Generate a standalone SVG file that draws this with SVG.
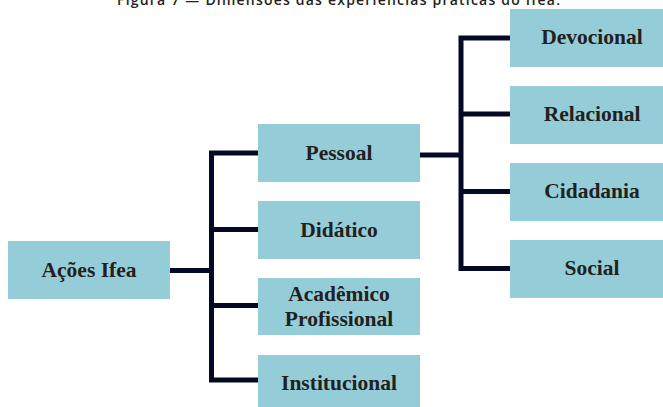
<svg xmlns="http://www.w3.org/2000/svg" width="663" height="407" viewBox="0 0 663 407">
<style>
.box{fill:#94cdd8}
.lbl{font-family:"Liberation Serif","Times New Roman",serif;font-weight:bold;font-size:21.5px;fill:#231f20;text-anchor:middle}
.ln{fill:none;stroke:#050a24;stroke-width:5;stroke-linejoin:miter;stroke-linecap:butt}
.title{font-family:"Open Sans","Liberation Sans",sans-serif;font-weight:600;font-size:14px;fill:#231f20}
</style>
<rect width="663" height="407" fill="#ffffff"/>
<text class="title" x="117" y="4.5" textLength="443" lengthAdjust="spacing">Figura 7 — Dimensões das experiências práticas do Ifea.</text>
<g id="connectors">
<path class="ln" d="M170 270.5 H211.5"/>
<path class="ln" d="M258 153 H211.5 V380 H258"/>
<path class="ln" d="M211.5 229.5 H258"/>
<path class="ln" d="M211.5 305.5 H258"/>
<path class="ln" d="M420 155 H461"/>
<path class="ln" d="M510 38 H461 V268.5 H510"/>
<path class="ln" d="M461 114 H510"/>
<path class="ln" d="M461 191.5 H510"/>
</g>
<g id="acoes"><rect class="box" x="8" y="241" width="162" height="58"/><text class="lbl" x="89" y="277">Ações Ifea</text></g>
<g id="pessoal"><rect class="box" x="258" y="124" width="162" height="58"/><text class="lbl" x="339" y="159.5">Pessoal</text></g>
<g id="didatico"><rect class="box" x="258" y="201" width="162" height="58"/><text class="lbl" x="339" y="236.5">Didático</text></g>
<g id="academico"><rect class="box" x="258" y="278" width="162" height="57"/><text class="lbl" x="339" y="300.5">Acadêmico</text><text class="lbl" x="339" y="326">Profissional</text></g>
<g id="institucional"><rect class="box" x="258" y="355" width="162" height="58"/><text class="lbl" x="339" y="389.5">Institucional</text></g>
<g id="devocional"><rect class="box" x="510" y="9" width="153" height="58"/><text class="lbl" x="592" y="43.5">Devocional</text></g>
<g id="relacional"><rect class="box" x="510" y="86" width="153" height="58"/><text class="lbl" x="592" y="120.5">Relacional</text></g>
<g id="cidadania"><rect class="box" x="510" y="163" width="153" height="58"/><text class="lbl" x="592" y="197.5">Cidadania</text></g>
<g id="social"><rect class="box" x="510" y="240" width="153" height="58"/><text class="lbl" x="592" y="274.5">Social</text></g>
</svg>
